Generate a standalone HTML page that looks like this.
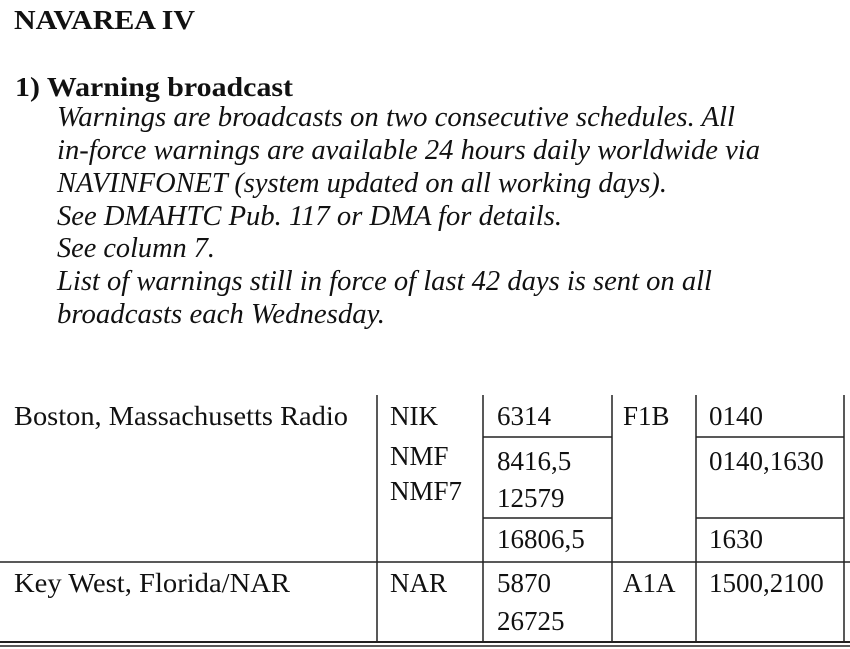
<!DOCTYPE html>
<html><head><meta charset="utf-8"><style>
html,body{margin:0;padding:0;background:#fff;}
svg{display:block;}
text{font-family:"Liberation Serif",serif;fill:#111;}
.b{font-weight:bold;}
.i{font-style:italic;}
</style></head><body>
<svg width="850" height="649" viewBox="0 0 850 649">
<text class="b" x="14" y="29" font-size="27" textLength="181" lengthAdjust="spacingAndGlyphs">NAVAREA IV</text>
<text class="b" x="15" y="96" font-size="27" textLength="278" lengthAdjust="spacingAndGlyphs">1)  Warning broadcast</text>
<g class="i" font-size="28">
<text x="57" y="126" textLength="678" lengthAdjust="spacingAndGlyphs">Warnings are broadcasts on two consecutive schedules. All</text>
<text x="57" y="159" textLength="703" lengthAdjust="spacingAndGlyphs">in-force warnings are available 24 hours daily worldwide via</text>
<text x="57" y="192" textLength="610" lengthAdjust="spacingAndGlyphs">NAVINFONET (system updated on all working days).</text>
<text x="57" y="225" textLength="505" lengthAdjust="spacingAndGlyphs">See DMAHTC Pub. 117 or DMA for details.</text>
<text x="57" y="257" textLength="158" lengthAdjust="spacingAndGlyphs">See column 7.</text>
<text x="57" y="290" textLength="655" lengthAdjust="spacingAndGlyphs">List of warnings still in force of last 42 days is sent on all</text>
<text x="57" y="323" textLength="328" lengthAdjust="spacingAndGlyphs">broadcasts each Wednesday.</text>
</g>
<g stroke="#222" stroke-width="1.5">
<line x1="377" y1="395" x2="377" y2="643"/>
<line x1="483" y1="395" x2="483" y2="643"/>
<line x1="612" y1="395" x2="612" y2="643"/>
<line x1="696" y1="395" x2="696" y2="643"/>
<line x1="844" y1="395" x2="844" y2="643"/>
<line x1="483" y1="437" x2="612" y2="437"/>
<line x1="696" y1="437" x2="844" y2="437"/>
<line x1="483" y1="518" x2="612" y2="518"/>
<line x1="696" y1="518" x2="844" y2="518"/>
<line x1="0" y1="562" x2="850" y2="562"/>
<line x1="0" y1="642" x2="850" y2="642" stroke-width="2"/>
<line x1="0" y1="646" x2="850" y2="646"/>
</g>
<g font-size="27">
<text x="14" y="425" textLength="334" lengthAdjust="spacingAndGlyphs">Boston, Massachusetts Radio</text>
<text x="390" y="425">NIK</text>
<text x="390" y="465">NMF</text>
<text x="390" y="500">NMF7</text>
<text x="497" y="425">6314</text>
<text x="497" y="470">8416,5</text>
<text x="497" y="507">12579</text>
<text x="497" y="548">16806,5</text>
<text x="623" y="425">F1B</text>
<text x="709" y="425">0140</text>
<text x="709" y="470">0140,1630</text>
<text x="709" y="548">1630</text>
<text x="14" y="592" textLength="276" lengthAdjust="spacingAndGlyphs">Key West, Florida/NAR</text>
<text x="390" y="592">NAR</text>
<text x="497" y="592">5870</text>
<text x="497" y="630">26725</text>
<text x="623" y="592">A1A</text>
<text x="709" y="592">1500,2100</text>
</g>
</svg>
</body></html>
